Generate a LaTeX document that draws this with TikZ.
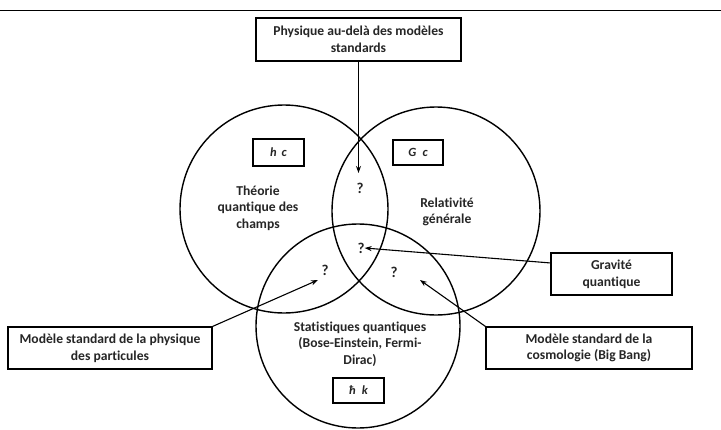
\documentclass[tikz,border=0pt]{standalone}
\usepackage{fontspec}
\setmainfont{Carlito}[Ligatures=NoCommon]
\usetikzlibrary{arrows.meta}
\begin{document}
\begin{tikzpicture}[x=1pt,y=-1pt,
  txt/.style={font=\bfseries\fontsize{13.6}{16.6}\selectfont, align=center, text=black!85, inner sep=0pt},
  sym/.style={font=\bfseries\itshape\fontsize{12.5}{14}\selectfont, text=black!85, inner sep=0pt},
  bx/.style={draw, line width=1.1pt},
  cir/.style={draw, line width=1.4pt},
  arr/.style={line width=1.1pt, -{Stealth[length=7pt,width=5pt]}},
  qm/.style={font=\bfseries\fontsize{15}{17}\selectfont, text=black!85, inner sep=0pt}]
\useasboundingbox (0,0) rectangle (721,429);
\fill[white] (0,0) rectangle (721,429);
\coordinate (tl) at (0,10.5);
\coordinate (tr) at (721,10.5);
\draw[line width=1.4pt] (tl) -- (tr);
% circles
\draw[cir] (284,209) circle (104);
\draw[cir] (436,211) circle (104);
\draw[cir] (358,326) circle (102);
% boxes
\node[bx, minimum width=205pt, minimum height=43pt, txt] (top) at (358.5,39.5) {Physique au-delà des modèles\\standards};
\node[bx, minimum width=51pt, minimum height=27pt, sym] (hc) at (278.5,152.5) {h\, c};
\node[bx, minimum width=50pt, minimum height=25pt, sym] (gc) at (418,152.5) {G\enspace c};
\node[bx, minimum width=51pt, minimum height=25pt, sym] (hk) at (358.5,390.5) {ħ\enspace k};
\node[bx, minimum width=121pt, minimum height=42pt, txt] (grav) at (611.5,274) {Gravité\\quantique};
\node[bx, minimum width=206pt, minimum height=42pt, txt] (cosmo) at (589,348) {Modèle standard de la\\cosmologie (Big Bang)};
\node[bx, minimum width=204pt, minimum height=42pt, txt] (part) at (110,348) {Modèle standard de la physique\\des particules};
% labels
\node[txt] (qft) at (258,208) {Théorie\\quantique des\\champs};
\node[txt] (rg) at (447,212) {Relativité\\générale};
\node[txt] (stat) at (360,344) {Statistiques quantiques\\(Bose-Einstein, Fermi-\\Dirac)};
% question marks
\node[qm] (q1) at (360,188) {?};
\node[qm] (q2) at (361,248) {?};
\node[qm] (q3) at (325,270) {?};
\node[qm] (q4) at (394,272) {?};
% arrows
\coordinate (t1) at (358.5,173);
\coordinate (gs) at (551,263);
\coordinate (t3) at (318,280);
\coordinate (t4) at (420,280);
\draw[arr] (top.south) -- (t1);
\draw[arr] (gs) -- (q2.east);
\draw[arr] (part.north east) -- (t3);
\draw[arr] (cosmo.north west) -- (t4);
\end{tikzpicture}
\end{document}
